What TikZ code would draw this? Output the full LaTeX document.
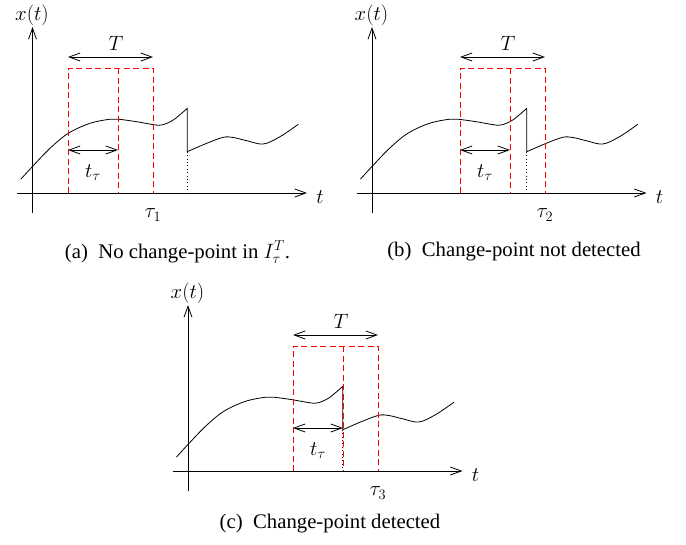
\documentclass[tikz,border=0pt]{standalone}
\usepackage{fontspec}
\setmainfont{Liberation Serif}
\usetikzlibrary{arrows.meta}
\tikzset{
  barb/.tip={Straight Barb[length=11pt,width=8pt,line width=0.8pt]},
  axisline/.style={line width=0.8pt, -barb},
  dimline/.style={line width=0.8pt, barb-barb},
  win/.style={red, line width=0.9pt, dash pattern=on 6pt off 3.5pt},
  sig/.style={line width=0.8pt, line join=round},
  drop/.style={line width=0.8pt, dash pattern=on 0.8pt off 2.6pt},
  lbl/.style={inner sep=0pt, font=\fontsize{20.74}{25}\selectfont},
  captext/.style={inner sep=0pt, font=\fontsize{20.74}{25}\selectfont},
}
\newcommand\drawpanel[5]{%
\begin{scope}[shift={(#1,#2)}]
  % axes
  \coordinate (xs#4) at (17,193);
  \coordinate (xe#4) at (307,193);
  \coordinate (ys#4) at (32.5,213);
  \coordinate (ye#4) at (32.5,27);
  % window
  \coordinate (bl#4) at (#3,193);
  \coordinate (tl#4) at (#3,68);
  \coordinate (tr#4) at ({#3+85},68);
  \coordinate (br#4) at ({#3+85},193);
  \coordinate (mt#4) at ({#3+50},68);
  \coordinate (mb#4) at ({#3+50},193);
  \coordinate (ta#4) at (#3,57);
  \coordinate (tb#4) at ({#3+85},57);
  \coordinate (sa#4) at (#3,150);
  \coordinate (sb#4) at ({#3+50},150);
  % jump
  \coordinate (jt#4) at (187.3,108.3);
  \coordinate (jb#4) at (187.3,151.7);
  \coordinate (jx#4) at (187.3,193);
  % signal
  \draw[sig] plot[smooth,tension=0.55] coordinates {(21,179) (32.3,166.7) (50,148.3) (68.3,133.3) (90,123.3) (110,119.2) (118.3,119.2) (136.7,121.7) (153.3,124.6) (161.7,125) (173.3,120) (jt#4)}
     -- (jb#4)
     -- plot[smooth,tension=0.55] coordinates {(jb#4) (206.7,143.3) (223.3,137.3) (233.3,137.5) (246.7,140.7) (263.3,144) (280,136.7) (298.3,124.3)};
  \draw[drop] (jb#4) -- (jx#4);
  % window lines
  \draw[win] (bl#4) -- (tl#4) -- (tr#4) -- (br#4);
  \draw[win] (mt#4) -- (mb#4);
  % axes
  \draw[axisline] (xs#4) -- (xe#4);
  \draw[axisline] (ys#4) -- (ye#4);
  % dimension arrows
  \draw[dimline] (ta#4) -- (tb#4);
  \draw[dimline] (sa#4) -- (sb#4);
  % labels
  \node[lbl] (xl#4) at (32,15) {$x(t)$};
  \node[lbl] (tl#4l) at (320,197) {$t$};
  \node[lbl] (Tl#4) at ({#3+48},43) {$T$};
  \node[lbl] (ttl#4) at ({#3+25},173) {$t_\tau$};
  \node[lbl] (tau#4) at ({#3+85},215) {$\tau_#5$};
\end{scope}}
\begin{document}
\begin{tikzpicture}[x=1pt,y=-1pt]
  \useasboundingbox (0,0) rectangle (686,544);
  \drawpanel{0}{0}{68}{a}{1}
  \drawpanel{339.5}{0}{120.5}{b}{2}
  \drawpanel{155.5}{278}{137.5}{c}{3}
  \node[captext] (capa) at (177.5,252) {(a)\hspace{0.5em}No change-point in $I_\tau^T$.};
  \node[captext] (capb) at (514,252) {(b)\hspace{0.5em}Change-point not detected};
  \node[captext] (capc) at (330,524) {(c)\hspace{0.5em}Change-point detected};
\end{tikzpicture}
\end{document}
